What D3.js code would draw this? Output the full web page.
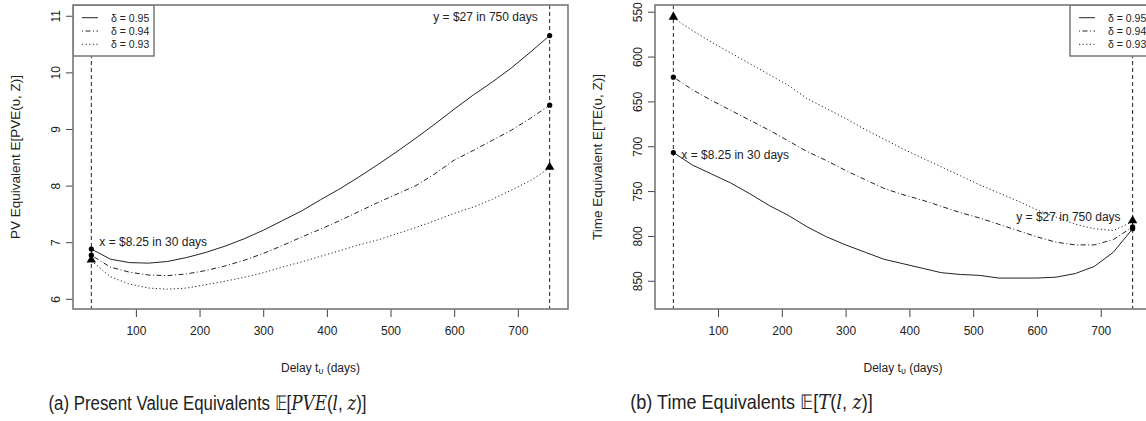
<!DOCTYPE html>
<html><head><meta charset="utf-8">
<script src="https://cdn.jsdelivr.net/npm/d3@7"></script>
<style>body{margin:0;background:#fff}svg{display:block}text{font-family:"Liberation Sans",Arial,sans-serif}</style>
</head><body><svg id="c" width="1146" height="421"></svg>
<script>
const days = [30,60,90,120,150,180,210,240,270,300,330,360,390,420,450,480,510,540,570,600,630,660,690,720,750];
const seriesNames = ["δ = 0.95","δ = 0.94","δ = 0.93"];
const xTicks = [100,200,300,400,500,600,700];
// Panel (a): PV equivalents
const pve95 = [6.88,6.70,6.64,6.63,6.66,6.73,6.82,6.93,7.06,7.21,7.38,7.55,7.75,7.94,8.15,8.37,8.60,8.84,9.09,9.35,9.60,9.83,10.08,10.36,10.65];
const pve94 = [6.77,6.56,6.47,6.42,6.41,6.44,6.50,6.58,6.68,6.80,6.94,7.09,7.23,7.38,7.54,7.70,7.85,8.00,8.21,8.45,8.62,8.80,8.98,9.19,9.42];
const pve93 = [6.67,6.39,6.26,6.19,6.17,6.19,6.25,6.31,6.38,6.46,6.56,6.65,6.75,6.85,6.95,7.04,7.15,7.26,7.38,7.51,7.62,7.76,7.92,8.09,8.31];
const pveTicks = [6,7,8,9,10,11];
// Panel (b): time equivalents
const te95 = [707,721,731,741,753,766,777,790,801,810,818,826,831,836,841,843,844,847,847,847,846,842,834,818,792];
const te94 = [623,637,649,660,671,682,694,706,716,727,737,747,754,760,767,774,780,787,794,801,807,810,810,804,790];
const te93 = [557,571,584,596,608,620,632,647,658,669,681,692,703,713,723,733,743,752,761,771,779,787,792,794,784];
const teTicks = [550,600,650,700,750,800,850];
const labelX = "x = $8.25 in 30 days";
const labelY = "y = $27 in 750 days";

const svg = d3.select("#c");
svg.append("rect").attr("width",1146).attr("height",421).attr("fill","#fff");
const dashes = [null,"1,2.5,5,2.5","1.2,2.4"];
const marks = ["dot","dot","tri"];

function panel(o){
  const g = svg.append("g");
  const x = d3.scaleLinear().domain([1.2,778.8]).range([o.left,o.right]);
  const y = d3.scaleLinear().domain(o.ydom).range(o.yrange);
  const xa = g.append("g").attr("transform","translate(0,309)")
    .call(d3.axisBottom(x).tickValues(xTicks).tickSize(8).tickPadding(9).tickFormat(d3.format("d")));
  const ya = g.append("g").attr("transform",`translate(${o.left},0)`)
    .call(d3.axisLeft(y).tickValues(o.yticks).tickSize(7).tickFormat(d3.format("d")));
  [xa,ya].forEach(a=>{a.select(".domain").remove();a.selectAll("line").attr("stroke","#444");
    a.selectAll("text").attr("font-size",12).attr("fill","#222");});
  ya.selectAll("text").attr("text-anchor","middle").attr("x",null).attr("dy",null).attr("y",null)
    .attr("transform","translate(-17,0) rotate(-90)").attr("dominant-baseline","central");
  const cid = "clip"+o.id;
  svg.append("clipPath").attr("id",cid).append("rect").attr("x",o.left).attr("y",5).attr("width",o.right-o.left).attr("height",304);
  const pg = g.append("g").attr("clip-path",`url(#${cid})`);
  [30,750].forEach(d=>pg.append("line").attr("x1",x(d)).attr("x2",x(d)).attr("y1",5).attr("y2",309)
    .attr("stroke","#222").attr("stroke-width",1).attr("stroke-dasharray","4,3"));
  const line = d3.line().x((d,i)=>x(days[i])).y(d=>y(d));
  o.series.forEach((s,k)=>{
    pg.append("path").datum(s).attr("d",line).attr("fill","none").attr("stroke","#222")
      .attr("stroke-width",1).attr("stroke-dasharray",dashes[k]);
    [0,s.length-1].forEach(i=>{
      const px=x(days[i]), py=y(s[i]);
      if(marks[k]==="dot") pg.append("circle").attr("cx",px).attr("cy",py).attr("r",2.6).attr("fill","#000");
      else pg.append("path").attr("d",d3.symbol(d3.symbolTriangle,38)()).attr("transform",`translate(${px},${py-1})`).attr("fill","#000");
    });
  });
  const lxp=o.lx(x,y), lyp=o.ly(x,y);
  pg.append("text").attr("x",lxp[0]).attr("y",lxp[1]).attr("font-size",12).attr("fill","#222")
    .attr("dominant-baseline","central").text(labelX);
  pg.append("text").attr("x",lyp[0]).attr("y",lyp[1]).attr("font-size",12).attr("fill","#222")
    .attr("text-anchor","end").attr("dominant-baseline","central").text(labelY);
  const lg = pg.append("g").attr("transform",`translate(${o.legX},5)`);
  lg.append("rect").attr("width",81).attr("height",51).attr("fill","#fff").attr("stroke","#777").attr("stroke-width",1.5);
  seriesNames.forEach((n,k)=>{
    const yy = 12.7+k*13.3;
    lg.append("line").attr("x1",9).attr("x2",25).attr("y1",yy).attr("y2",yy).attr("stroke","#222")
      .attr("stroke-dasharray",dashes[k]);
    lg.append("text").attr("x",38).attr("y",yy).attr("dominant-baseline","central").attr("font-size",10.5)
      .attr("fill","#222").text(n);
  });
  g.append("rect").attr("x",o.left).attr("y",5).attr("width",o.right-o.left).attr("height",304)
    .attr("fill","none").attr("stroke","#777").attr("stroke-width",1.6);
  const xt = g.append("text").attr("x",(o.left+o.right)/2).attr("y",368).attr("text-anchor","middle")
    .attr("dominant-baseline","central").attr("font-size",12).attr("fill","#222");
  xt.append("tspan").text("Delay t");
  xt.append("tspan").attr("font-size",9).attr("dy",3).text("υ");
  xt.append("tspan").attr("dy",-3).text(" (days)");
  g.append("text").attr("transform",`translate(${o.ylabX},157) rotate(-90)`).attr("text-anchor","middle")
    .attr("dominant-baseline","central").attr("font-size",13.5).attr("fill","#222").text(o.ylab);
  const cap = svg.append("text").attr("x",0).attr("y",0).attr("text-anchor","middle")
    .attr("dominant-baseline","central").attr("font-size",20).attr("fill","#222")
    .attr("font-family","Roboto, sans-serif");
  o.caption.forEach(p=>cap.append("tspan").attr("font-style",p[1]?"italic":null).attr("font-family",p[1]?"DejaVu Serif, serif":null).text(p[0]));
  const w = cap.node().getBBox().width;
  cap.attr("transform",`translate(${o.capX},402) scale(${o.capW/w},1)`);
}

panel({id:"a",left:73,right:568,ydom:[5.82,11.19],yrange:[309,5],yticks:pveTicks,series:[pve95,pve94,pve93],
  lx:(x,y)=>[x(30)+8,y(7.0)], ly:(x,y)=>[x(750)-12,y(10.97)], legX:73, ylabX:15,
  ylab:"PV Equivalent E[PVE(υ, Z)]", capX:207.5, capW:319,
  caption:[["(a) Present Value Equivalents 𝔼["],["PVE",1],["("],["l",1],[", "],["z",1],[")]"]]});
panel({id:"b",left:655,right:1151,ydom:[542.5,881.5],yrange:[5,309],yticks:teTicks,series:[te95,te94,te93],
  lx:(x,y)=>[x(30)+8,y(710)], ly:(x,y)=>[x(750)-12,y(779)], legX:1070, ylabX:597,
  ylab:"Time Equivalent E[TE(υ, Z)]", capX:751.5, capW:243,
  caption:[["(b) Time Equivalents 𝔼["],["T",1],["("],["l",1],[", "],["z",1],[")]"]]});
</script></body></html>
